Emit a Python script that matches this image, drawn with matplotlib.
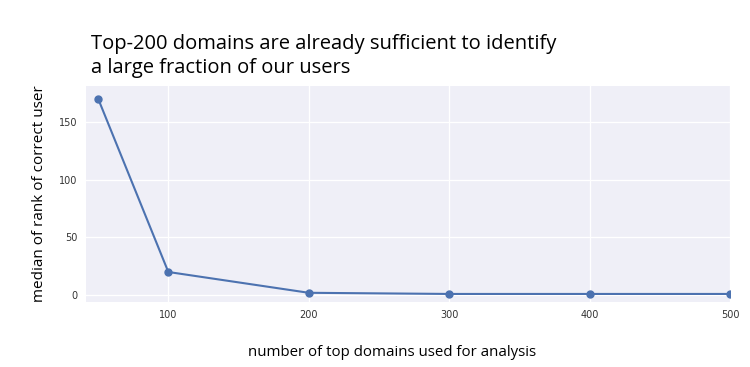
import matplotlib.pyplot as plt

# values
numDomains = [50, 100, 200, 300, 400, 500]
medianRank = [170, 20, 2, 1, 1, 1]

xTicks = [100, 200, 300, 400, 500]
yTicks = [0, 50, 100, 150]

fig = plt.figure(figsize=(7.5, 3.67), dpi=100)
# axes box: x 86..730 px, y 86..302 px
ax = fig.add_axes([0.1147, 0.177, 0.8587, 0.589])

ax.set_facecolor('#EFEFF7')
for side in ax.spines.values():
    side.set_visible(False)
ax.grid(True, color='white', linewidth=0.9)
ax.set_axisbelow(True)

ax.plot(numDomains, medianRank, color='#4C72B0', linewidth=1.5,
        marker='o', markersize=5)

ax.set_xlim(41.4, 500)
ax.set_ylim(-6, 181)
ax.set_xticks(xTicks)
ax.set_yticks(yTicks)
ax.tick_params(length=0, labelsize=7, colors='#333333', pad=6)

ax.set_xlabel('number of top domains used for analysis', fontsize=10.8,
              family='Open Sans')
ax.xaxis.set_label_coords((392 - 86) / 644, -0.2)
ax.set_ylabel('median of rank of correct user', fontsize=11,
              family='Open Sans', labelpad=9)

fig.text(0.121, 0.787, 'Top-200 domains are already sufficient to identify\n'
         'a large fraction of our users', fontsize=14.5, family='Open Sans',
         ha='left', va='bottom', linespacing=1.3)

fig.savefig('out.png', dpi=100)
